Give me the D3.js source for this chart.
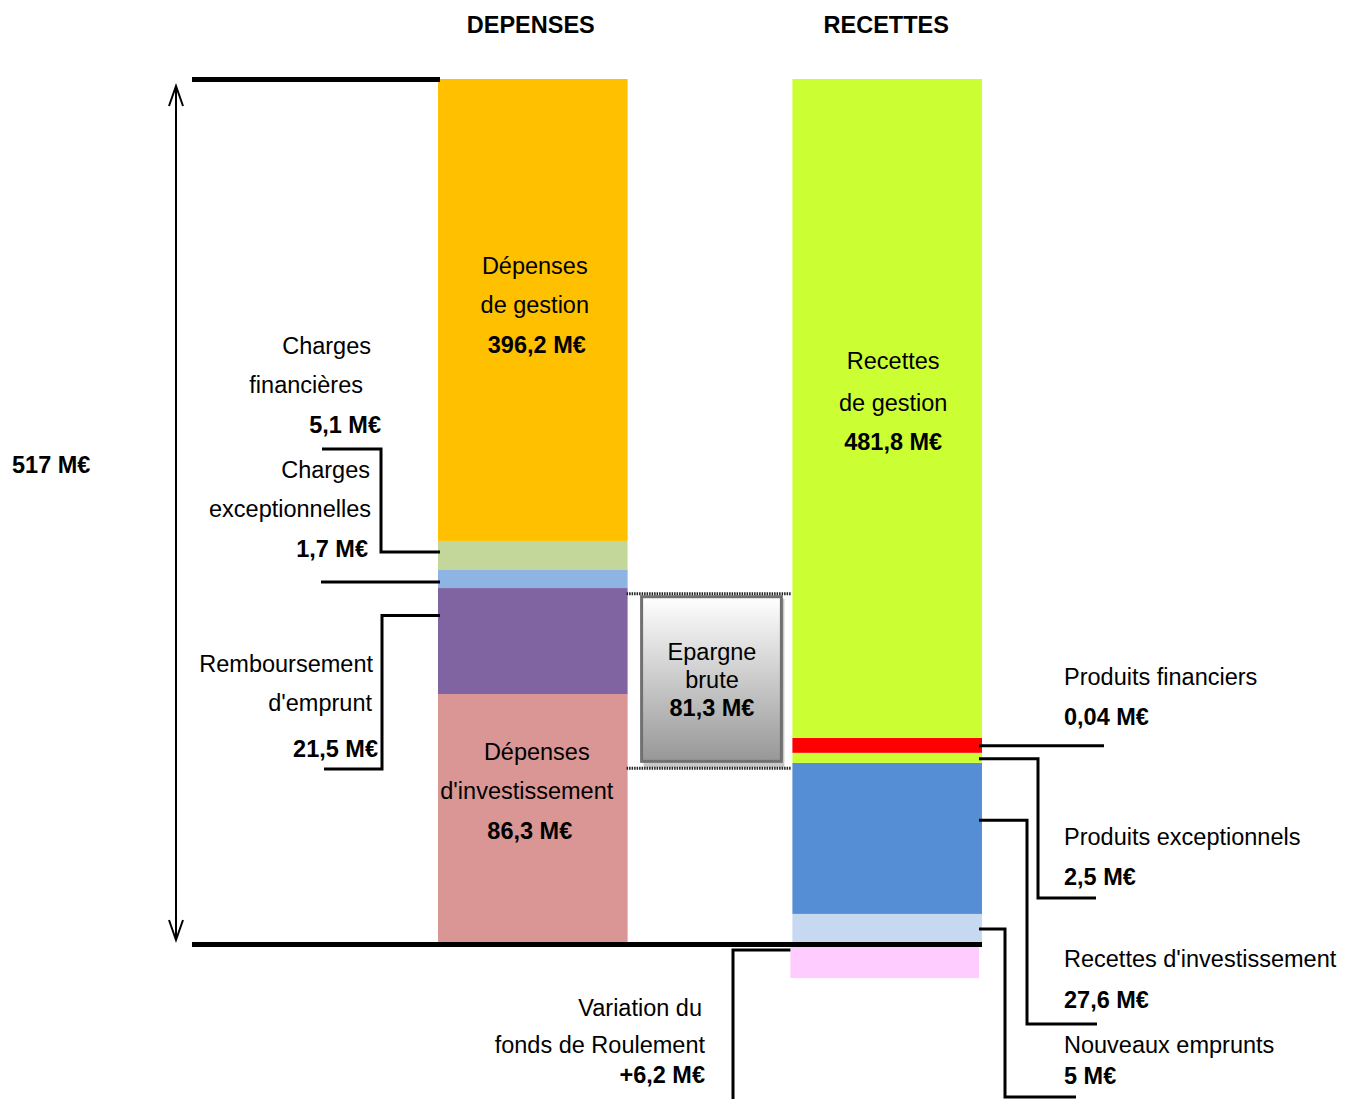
<!DOCTYPE html>
<html>
<head>
<meta charset="utf-8">
<script src="https://cdn.jsdelivr.net/npm/d3@7"></script>
<style>
    body { margin: 0; background: #fff; }
    svg text { font-family: Arial, "Liberation Sans", sans-serif; font-size: 23.5px; fill: #000; }
    svg text.bold { font-weight: bold; }
</style>
</head>
<body>
<div id="container"></div>
<script>
// ---------------------------------------------------------------------
// Data (heights are the schematic heights, in M€ of the 517 M€ scale)
const categories = ["DEPENSES", "RECETTES"];
const montantTotal = 517;

// bottom to top
const depensesPostes = ["Dépenses d'investissement", "Remboursement d'emprunt", "Charges exceptionnelles", "Charges financières", "Dépenses de gestion"];
const depensesHauteurs = [149.0, 63.4, 10.8, 17.4, 276.4];
const depensesCouleurs = ["#D99694", "#8064A2", "#8DB4E2", "#C4D79B", "#FFC000"];

const recettesPostes = ["Nouveaux emprunts", "Recettes d'investissement", "Produits exceptionnels", "Produits financiers", "Recettes de gestion"];
const recettesHauteurs = [17.4, 90.4, 6.0, 9.0, 394.2];
const recettesCouleurs = ["#C6D9F1", "#558ED5", "#CCFF33", "#FF0000", "#CCFF33"];

const variationFdr = -21; // drawn below the baseline
const epargneBornes = [104.5, 209];

// labels
const montants = {
    "Dépenses de gestion": "396,2 M€",
    "Charges financières": "5,1 M€",
    "Charges exceptionnelles": "1,7 M€",
    "Remboursement d'emprunt": "21,5 M€",
    "Dépenses d'investissement": "86,3 M€",
    "Recettes de gestion": "481,8 M€",
    "Produits financiers": "0,04 M€",
    "Produits exceptionnels": "2,5 M€",
    "Recettes d'investissement": "27,6 M€",
    "Nouveaux emprunts": "5 M€",
    "Variation FdR": "+6,2 M€",
    "Epargne brute": "81,3 M€",
    "Total": "517 M€"
};

// ---------------------------------------------------------------------
// Chart
const width = 1346, height = 1099;

const svg = d3.select("#container").append("svg")
    .attr("width", width)
    .attr("height", height);

const x = d3.scaleBand()
    .domain(categories)
    .range([438, 982])
    .paddingInner(0.465)
    .paddingOuter(0);

const y = d3.scaleLinear()
    .domain([0, montantTotal])
    .range([943, 79]);

// stack helper
const stack = (postes, hauteurs, couleurs, cat) => {
    let base = 0;
    return postes.map((p, i) => {
        const s = { poste: p, cat: cat, y0: base, y1: base + hauteurs[i], couleur: couleurs[i] };
        base += hauteurs[i];
        return s;
    });
};
const segments = [
    ...stack(depensesPostes, depensesHauteurs, depensesCouleurs, "DEPENSES"),
    ...stack(recettesPostes, recettesHauteurs, recettesCouleurs, "RECETTES")
];
const seg = name => segments.find(s => s.poste === name);

svg.append("g").selectAll("rect")
    .data(segments)
    .join("rect")
    .attr("x", d => x(d.cat))
    .attr("width", x.bandwidth())
    .attr("y", d => y(d.y1))
    .attr("height", d => y(d.y0) - y(d.y1))
    .attr("fill", d => d.couleur);

// variation du fonds de roulement (below baseline)
svg.append("rect")
    .attr("x", x("RECETTES") - 2)
    .attr("width", x.bandwidth() - 1)
    .attr("y", y(0))
    .attr("height", y(variationFdr) - y(0))
    .attr("fill", "#FFCCFF");

// top and bottom thick lines
svg.append("line")
    .attr("x1", 192).attr("x2", x("DEPENSES") + 2)
    .attr("y1", y(montantTotal) + 0.5).attr("y2", y(montantTotal) + 0.5)
    .attr("stroke", "#000").attr("stroke-width", 5);
svg.append("line")
    .attr("x1", 192).attr("x2", x("RECETTES") + x.bandwidth())
    .attr("y1", y(0) + 1.5).attr("y2", y(0) + 1.5)
    .attr("stroke", "#000").attr("stroke-width", 5);

// double arrow for the total
const arrowX = 176;
const aTop = y(montantTotal) + 7, aBot = y(0) - 3;
svg.append("line")
    .attr("x1", arrowX).attr("x2", arrowX)
    .attr("y1", aTop).attr("y2", aBot)
    .attr("stroke", "#000").attr("stroke-width", 2);
svg.append("path")
    .attr("d", `M${arrowX - 7},${aTop + 20} L${arrowX},${aTop} L${arrowX + 7},${aTop + 20}`)
    .attr("fill", "none").attr("stroke", "#000").attr("stroke-width", 2);
svg.append("path")
    .attr("d", `M${arrowX - 7},${aBot - 20} L${arrowX},${aBot} L${arrowX + 7},${aBot - 20}`)
    .attr("fill", "none").attr("stroke", "#000").attr("stroke-width", 2);

// ---------------------------------------------------------------------
// Epargne brute box
const defs = svg.append("defs");
const grad = defs.append("linearGradient")
    .attr("id", "gradEpargne")
    .attr("x1", 0).attr("x2", 0).attr("y1", 0).attr("y2", 1);
grad.append("stop").attr("offset", "0%").attr("stop-color", "#ffffff");
grad.append("stop").attr("offset", "100%").attr("stop-color", "#979797");

const gapLeft = x("DEPENSES") + x.bandwidth();
const gapRight = x("RECETTES");
const eTop = y(epargneBornes[1]), eBot = y(epargneBornes[0]);

svg.append("rect")
    .attr("x", gapLeft + 16).attr("y", eTop + 5)
    .attr("width", gapRight - gapLeft - 24).attr("height", eBot - eTop - 6)
    .attr("fill", "#c8c8c8");
svg.append("rect")
    .attr("x", gapLeft + 14).attr("y", eTop + 3)
    .attr("width", gapRight - gapLeft - 25).attr("height", eBot - eTop - 10)
    .attr("fill", "url(#gradEpargne)")
    .attr("stroke", "#707070").attr("stroke-width", 3);

[eTop, eBot].forEach(v => {
    svg.append("line")
        .attr("x1", gapLeft - 1).attr("x2", gapRight - 1)
        .attr("y1", v).attr("y2", v)
        .attr("stroke", "#222").attr("stroke-width", 3)
        .attr("stroke-dasharray", "1.5,1");
});

// ---------------------------------------------------------------------
// Leader lines
const leftEdge = x("DEPENSES") + 2;
const rightEdge = x("RECETTES") + x.bandwidth() - 3;
const at = (name, frac) => { const s = seg(name); return y(s.y0 + frac * (s.y1 - s.y0)); };

const leaders = [
    { x0: leftEdge, y0: at("Charges financières", 0.62), xe: 381, ye: 449, x1: 322 },
    { x0: leftEdge, y0: at("Charges exceptionnelles", 0.33), xe: 321, ye: null, x1: 321 },
    { x0: leftEdge, y0: at("Remboursement d'emprunt", 0.74), xe: 382, ye: 769, x1: 324 },
    { x0: rightEdge, y0: at("Produits financiers", 0.47), xe: 1104, ye: null, x1: 1104 },
    { x0: rightEdge, y0: at("Produits exceptionnels", 0.4), xe: 1038, ye: 898, x1: 1096 },
    { x0: rightEdge, y0: at("Recettes d'investissement", 0.62), xe: 1027, ye: 1024, x1: 1097 },
    { x0: rightEdge, y0: at("Nouveaux emprunts", 0.48), xe: 1005, ye: 1097, x1: 1076 },
    { x0: x("RECETTES") - 2, y0: y(variationFdr * 0.2), xe: 733, ye: 1110, x1: 733 }
];

const line = d3.line();
svg.append("g").selectAll("path")
    .data(leaders)
    .join("path")
    .attr("d", l => {
        const pts = [[l.x0, l.y0], [l.xe, l.y0]];
        if (l.ye != null) pts.push([l.xe, l.ye], [l.x1, l.ye]);
        return line(pts);
    })
    .attr("fill", "none")
    .attr("stroke", "#000")
    .attr("stroke-width", 3);

// ---------------------------------------------------------------------
// Texts
const label = (txt, tx, ty, anchor, bold) => {
    svg.append("text")
        .attr("x", tx).attr("y", ty)
        .attr("text-anchor", anchor)
        .attr("dominant-baseline", "central")
        .attr("class", bold ? "bold" : null)
        .text(txt);
};

const cx = c => x(c) + x.bandwidth() / 2;

label("DEPENSES", cx("DEPENSES") - 2, 25, "middle", true);
label("RECETTES", cx("RECETTES") - 1, 25, "middle", true);
label(montants["Total"], 12, 465, "start", true);

// inside the bars
label("Dépenses", cx("DEPENSES") + 2, 266, "middle");
label("de gestion", cx("DEPENSES") + 2, 305, "middle");
label(montants["Dépenses de gestion"], cx("DEPENSES") + 4, 345, "middle", true);

label("Dépenses", cx("DEPENSES") + 4, 752, "middle");
label("d'investissement", cx("DEPENSES") - 6, 791, "middle");
label(montants["Dépenses d'investissement"], cx("DEPENSES") - 3, 831, "middle", true);

label("Recettes", cx("RECETTES") + 6, 361, "middle");
label("de gestion", cx("RECETTES") + 6, 403, "middle");
label(montants["Recettes de gestion"], cx("RECETTES") + 6, 442, "middle", true);

label("Epargne", 712, 652, "middle");
label("brute", 712, 680, "middle");
label(montants["Epargne brute"], 712, 708, "middle", true);

// left side
label("Charges", 371, 346, "end");
label("financières", 363, 385, "end");
label(montants["Charges financières"], 381, 425, "end", true);

label("Charges", 370, 470, "end");
label("exceptionnelles", 371, 509, "end");
label(montants["Charges exceptionnelles"], 368, 549, "end", true);

label("Remboursement", 373, 664, "end");
label("d'emprunt", 372, 703, "end");
label(montants["Remboursement d'emprunt"], 378, 749, "end", true);

// right side
label("Produits financiers", 1064, 677, "start");
label(montants["Produits financiers"], 1064, 717, "start", true);
label("Produits exceptionnels", 1064, 837, "start");
label(montants["Produits exceptionnels"], 1064, 877, "start", true);
label("Recettes d'investissement", 1064, 959, "start");
label(montants["Recettes d'investissement"], 1064, 1000, "start", true);
label("Nouveaux emprunts", 1064, 1045, "start");
label(montants["Nouveaux emprunts"], 1064, 1076, "start", true);

label("Variation du", 702, 1008, "end");
label("fonds de Roulement", 705, 1045, "end");
label(montants["Variation FdR"], 705, 1075, "end", true);
</script>
</body>
</html>
